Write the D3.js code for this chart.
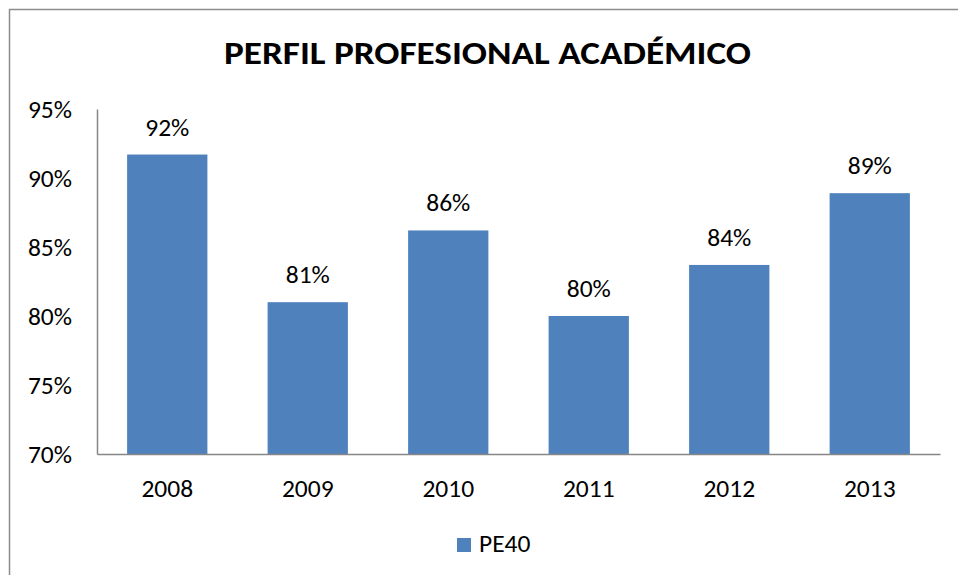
<!DOCTYPE html>
<html>
<head>
<meta charset="utf-8">
<script src="https://cdn.jsdelivr.net/npm/d3@7"></script>
<style>
  body { margin: 0; background: #fff; }
  text { font-family: Carlito, "Open Sans", sans-serif; fill: #000; }
</style>
</head>
<body>
<div id="chart"></div>
<script>
// data
var years = ["2008", "2009", "2010", "2011", "2012", "2013"];
var pe40 = [91.7, 81.0, 86.2, 80.0, 83.7, 88.9];
var yTicks = [70, 75, 80, 85, 90, 95];
var seriesName = "PE40";
var title = "PERFIL PROFESIONAL ACADÉMICO";

var W = 958, H = 575;
var margin = {top: 109, right: 18, bottom: 121, left: 97},
  width = W - margin.left - margin.right,
  height = H - margin.top - margin.bottom;

var fs = "25.5px";

var svg = d3.select("#chart")
  .append("svg")
    .attr("width", W)
    .attr("height", H);

// outer chart border (right and bottom fall off the picture)
svg.append("rect")
  .attr("x", 9.5).attr("y", 9.5)
  .attr("width", W + 20).attr("height", H + 20)
  .attr("fill", "none")
  .attr("stroke", "#8c8c8c")
  .attr("stroke-width", 1.5);

// title
svg.append("text")
  .attr("x", 487.5)
  .attr("y", 64)
  .attr("text-anchor", "middle")
  .style("font-size", "32.5px")
  .style("font-weight", "bold")
  .attr("textLength", 527)
  .attr("lengthAdjust", "spacingAndGlyphs")
  .text(title);

var g = svg.append("g")
  .attr("transform", "translate(" + margin.left + "," + margin.top + ")");

var x = d3.scaleBand()
  .domain(years)
  .range([0, width])
  .paddingInner(0.4286)
  .paddingOuter(0.2143);

var y = d3.scaleLinear()
  .domain([70, 95])
  .range([height, 0]);

// bars
g.selectAll("rect.bar")
  .data(pe40)
  .enter()
  .append("rect")
    .attr("class", "bar")
    .attr("x", function(d, i) { return x(years[i]); })
    .attr("y", function(d) { return y(d); })
    .attr("width", x.bandwidth())
    .attr("height", function(d) { return height - y(d); })
    .attr("fill", "#4f81bd");

// value labels
g.selectAll("text.val")
  .data(pe40)
  .enter()
  .append("text")
    .attr("class", "val")
    .attr("x", function(d, i) { return x(years[i]) + x.bandwidth() / 2; })
    .attr("y", function(d) { return y(d) - 19; })
    .attr("text-anchor", "middle")
    .style("font-size", fs)
    .text(function(d) { return Math.round(d) + "%"; });

// y axis
var yAxis = g.append("g")
  .call(d3.axisLeft(y).tickValues(yTicks).tickSize(0).tickPadding(25)
    .tickFormat(function(d) { return d + "%"; }));
yAxis.select(".domain").attr("stroke", "#868686").attr("stroke-width", 1.5);
yAxis.selectAll("text").style("font-size", fs).attr("dy", "0.33em");

// x axis
var xAxis = g.append("g")
  .attr("transform", "translate(0," + height + ")")
  .call(d3.axisBottom(x).tickSize(0).tickPadding(25));
xAxis.select(".domain").attr("stroke", "#868686").attr("stroke-width", 1.5);
xAxis.selectAll("text").style("font-size", fs);

// legend
var legend = svg.append("g").attr("transform", "translate(457,538)");
legend.append("rect")
  .attr("width", 14).attr("height", 14)
  .attr("fill", "#4f81bd");
legend.append("text")
  .attr("x", 22).attr("y", 14)
  .style("font-size", fs)
  .text(seriesName);
</script>
</body>
</html>
